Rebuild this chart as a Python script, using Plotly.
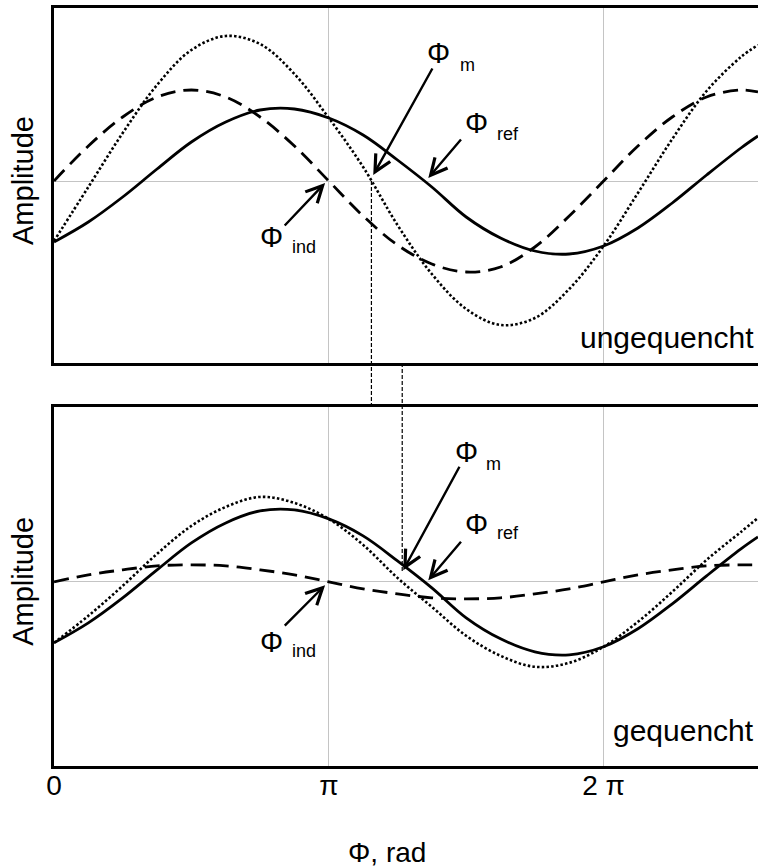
import numpy as np
import plotly.graph_objects as go

PI = np.pi

# Phase samples (in units of pi) and wave amplitudes (arbitrary units)
phase_pi = [0, 0.125, 0.25, 0.375, 0.5, 0.625, 0.75, 0.875, 1.0, 1.125, 1.25,
            1.375, 1.5, 1.625, 1.75, 1.875, 2.0, 2.125, 2.25, 2.375, 2.5, 2.562]

ref_wave = [-61, -41, -16, 12, 39, 59, 71, 72, 63, 46, 21,
            -6, -36, -57, -70, -73, -65, -47, -22, 6, 33, 45]

ind_ungequencht = [0, 35, 64, 84, 91, 84, 64, 35, 0, -35, -64,
                   -83, -91, -86, -66, -35, 0, 35, 64, 84, 91, 89]
meas_ungequencht = [-60, -6, 48, 96, 131, 145, 137, 107, 63, 14, -44,
                    -93, -128, -144, -137, -108, -65, -12, 42, 90, 124, 136]

ind_gequencht = [0, 7, 12, 16, 17, 16, 12, 7, 0, -7, -12,
                 -16, -17, -16, -12, -7, 0, 7, 12, 16, 17, 17]
meas_gequencht = [-61, -34, -4, 28, 56, 75, 85, 79, 63, 37, 4,
                  -25, -54, -74, -85, -81, -65, -40, -10, 22, 50, 64]

tick_vals_pi = [0, 1, 2]
tick_text = ["0", "π", "2 π"]

FONT = "Liberation Sans, Arial, sans-serif"
W, H = 758, 868
M_L, M_R, M_T, M_B = 54, 0, 8, 102
PLOT_H = H - M_T - M_B
PLOT_W = W - M_L - M_R


def paper_y(pix):
    """Pixel row -> paper fraction."""
    return (H - M_B - pix) / PLOT_H


def paper_x(pix):
    return (pix - M_L) / PLOT_W


top_dom = [paper_y(363), 1.0]
bot_dom = [0.0, paper_y(407.3)]
top_rng = [-182, 173]
bot_rng = [-184.3, 174.7]
X_MAX = 2.562 * PI

x = np.array(phase_pi) * PI


def data_to_paper(v, dom, rng):
    return dom[0] + (v - rng[0]) / (rng[1] - rng[0]) * (dom[1] - dom[0])


def falling_zero(xs, ys, start):
    """Phase where a wave crosses zero downward after `start`."""
    for i in range(len(ys) - 1):
        if xs[i] >= start and ys[i] > 0 >= ys[i + 1]:
            return xs[i] + (xs[i + 1] - xs[i]) * ys[i] / (ys[i] - ys[i + 1])
    return None


fig = go.Figure()

styles = {
    "ref": dict(color="black", width=2.8, dash="solid"),
    "ind": dict(color="black", width=2.8, dash="15px,8px"),
    "meas": dict(color="black", width=2.6, dash="2.5px,2.2px"),
}

for xa, ya, ind, meas in [("x", "y", ind_ungequencht, meas_ungequencht),
                          ("x2", "y2", ind_gequencht, meas_gequencht)]:
    for name, vals in [("meas", meas), ("ind", ind), ("ref", ref_wave)]:
        fig.add_trace(go.Scatter(
            x=x, y=vals, mode="lines", xaxis=xa, yaxis=ya,
            line=dict(shape="spline", smoothing=1.0, **styles[name]),
            hoverinfo="skip", showlegend=False,
        ))

axis_common = dict(showline=True, linecolor="black", linewidth=3, ticks="",
                   zeroline=False)

fig.update_layout(
    width=W, height=H,
    margin=dict(l=M_L, r=M_R, t=M_T, b=M_B),
    plot_bgcolor="white", paper_bgcolor="white",
    font=dict(family=FONT, size=29, color="black"),
    showlegend=False,
    xaxis=dict(domain=[0, 1], range=[0, X_MAX], anchor="y",
               tickvals=[v * PI for v in tick_vals_pi], showticklabels=False,
               showgrid=True, gridcolor="#c4c4c4", gridwidth=1, mirror=True,
               **axis_common),
    yaxis=dict(domain=top_dom, range=top_rng, anchor="x",
               showticklabels=False, showgrid=False, mirror=False,
               showline=True, linecolor="black", linewidth=3, ticks="",
               zeroline=True, zerolinecolor="#c4c4c4", zerolinewidth=1),
    xaxis2=dict(domain=[0, 1], range=[0, X_MAX], anchor="y2",
                tickvals=[v * PI for v in tick_vals_pi], ticktext=tick_text,
                tickfont=dict(size=28, family=FONT, color="black"),
                ticklabelstandoff=-8,
                showgrid=True, gridcolor="#c4c4c4", gridwidth=1, mirror=True,
                **axis_common),
    yaxis2=dict(domain=bot_dom, range=bot_rng, anchor="x2",
                showticklabels=False, showgrid=False, mirror=False,
                showline=True, linecolor="black", linewidth=3, ticks="",
                zeroline=True, zerolinecolor="#c4c4c4", zerolinewidth=1),
)

# Thin dashed connectors between the measured-phase crossings
x_m_top = falling_zero(x, meas_ungequencht, PI)
x_m_bot = falling_zero(x, meas_gequencht, PI)
conn = dict(color="black", width=1.2, dash="4px,2px")
fig.add_shape(type="line", xref="x", yref="paper", x0=x_m_top, x1=x_m_top,
              y0=data_to_paper(0, top_dom, top_rng), y1=bot_dom[1], line=conn)
fig.add_shape(type="line", xref="x", yref="paper", x0=x_m_bot, x1=x_m_bot,
              y0=top_dom[0], y1=data_to_paper(10, bot_dom, bot_rng), line=conn)

annotations = []


def arrow(xr, yr, tip, tail):
    annotations.append(dict(
        xref=xr, yref=yr, axref=xr, ayref=yr,
        x=tip[0] * PI, y=tip[1], ax=tail[0] * PI, ay=tail[1],
        text="", showarrow=True, arrowhead=5, arrowsize=1.35,
        arrowwidth=2.4, arrowcolor="black", standoff=0))


def phi_label(xr, yr, pos, sub, sub_pos):
    annotations.append(dict(xref=xr, yref=yr, x=pos[0] * PI, y=pos[1],
                            text="Φ", showarrow=False, xanchor="center",
                            yanchor="middle", font=dict(size=29)))
    annotations.append(dict(xref=xr, yref=yr, x=sub_pos[0] * PI, y=sub_pos[1],
                            text=sub, showarrow=False, xanchor="center",
                            yanchor="middle", font=dict(size=18)))


# upper panel (ungequencht)
arrow("x", "y", (1.1618, 6), (1.3801, 114))
arrow("x", "y", (1.3621, 3), (1.4857, 43))
arrow("x", "y", (0.9866, -2), (0.8344, -46))
phi_label("x", "y", (1.401, 128), "m", (1.503, 116))
phi_label("x", "y", (1.5393, 58), "ref", (1.6521, 47))
phi_label("x", "y", (0.7933, -56), "ind", (0.9098, -66))

# lower panel (gequencht)
arrow("x2", "y2", (1.2711, 11.7), (1.4785, 116.7))
arrow("x2", "y2", (1.3621, 1.7), (1.4857, 41.7))
arrow("x2", "y2", (0.9866, -3.3), (0.8344, -45.3))
phi_label("x2", "y2", (1.5029, 129.7), "m", (1.6012, 118))
phi_label("x2", "y2", (1.5393, 57.7), "ref", (1.6521, 48.7))
phi_label("x2", "y2", (0.7933, -60.3), "ind", (0.9098, -69.3))

# panel captions
annotations.append(dict(xref="paper", yref="y", x=paper_x(667), y=-156,
                        text="ungequencht", showarrow=False,
                        xanchor="center", yanchor="middle",
                        font=dict(size=30)))
annotations.append(dict(xref="paper", yref="y2", x=paper_x(683), y=-149,
                        text="gequencht", showarrow=False,
                        xanchor="center", yanchor="middle",
                        font=dict(size=30)))

# axis titles
for yr in ("y", "y2"):
    annotations.append(dict(xref="paper", yref=yr, x=paper_x(23), y=0,
                            text="Amplitude", textangle=-90, showarrow=False,
                            xanchor="center", yanchor="middle",
                            font=dict(size=29)))
annotations.append(dict(xref="paper", yref="paper", x=paper_x(387),
                        y=paper_y(852), text="Φ, rad", showarrow=False,
                        xanchor="center", yanchor="middle",
                        font=dict(size=28)))

fig.update_layout(annotations=annotations)

fig.write_html("out.html")
